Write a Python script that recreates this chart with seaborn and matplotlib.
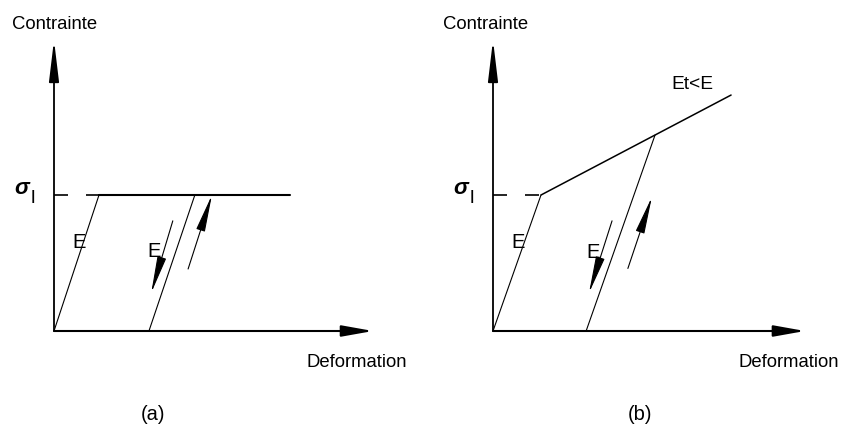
import matplotlib
matplotlib.use("Agg")
import matplotlib.pyplot as plt
import seaborn as sns

# ---- (a) elastic / perfectly plastic law (stress normalised by sigma_l) ----
a_load_strain = [0.0, 1.0, 5.25]
a_load_stress = [0.0, 1.0, 1.0]
a_unload_strain = [3.13, 2.11]
a_unload_stress = [1.0, 0.0]
a_guide_strain = [0.0, 1.0]
a_guide_stress = [1.0, 1.0]
a_down_strain = [2.64, 2.16]
a_down_stress = [0.81, 0.28]
a_up_strain = [2.98, 3.51]
a_up_stress = [0.456, 1.0]
a_axis_end = [7.09, 2.14]          # end of strain axis, end of stress axis

# ---- (b) elastic / linear hardening law (Et < E) ----
b_load_strain = [0.0, 1.0, 4.96]
b_load_stress = [0.0, 1.0, 1.735]
b_unload_strain = [3.375, 1.94]
b_unload_stress = [1.44, 0.0]
b_guide_strain = [0.0, 1.0]
b_guide_stress = [1.0, 1.0]
b_down_strain = [2.48, 2.0]
b_down_stress = [0.81, 0.28]
b_up_strain = [2.81, 3.31]
b_up_stress = [0.46, 0.985]
b_axis_end = [6.5, 2.14]

sns.set_theme(style="white")
plt.rcParams["font.family"] = ["Liberation Sans", "DejaVu Sans"]

W, H = 842, 430
fig = plt.figure(figsize=(W / 100, H / 100), dpi=100)
fig.patch.set_facecolor("white")


def make_axes(rect, origin_px, px_per_strain, px_per_stress):
    """Axes whose data units are strain/stress, placed so the origin sits at origin_px."""
    ax = fig.add_axes(rect)
    left_px = rect[0] * W
    right_px = (rect[0] + rect[2]) * W
    ox, oy = origin_px
    ax.set_xlim((left_px - ox) / px_per_strain, (right_px - ox) / px_per_strain)
    ax.set_ylim((oy - H) / px_per_stress, oy / px_per_stress)
    ax.set_axis_off()
    return ax


def draw_axes_arrows(ax, end):
    ax.annotate("", xy=(0, end[1]), xytext=(0, 0),
                arrowprops=dict(arrowstyle="-|>,head_length=2.5,head_width=0.3",
                                mutation_scale=10, color="black", lw=1.3,
                                shrinkA=0, shrinkB=0))
    ax.annotate("", xy=(end[0], 0), xytext=(0, 0),
                arrowprops=dict(arrowstyle="-|>,head_length=1.9,head_width=0.34",
                                mutation_scale=10, color="black", lw=1.5,
                                shrinkA=0, shrinkB=0))


def draw_small_arrow(ax, xs, ys):
    ax.annotate("", xy=(xs[1], ys[1]), xytext=(xs[0], ys[0]),
                arrowprops=dict(arrowstyle="-|>,head_length=2.3,head_width=0.28",
                                mutation_scale=10, color="black", lw=0.8,
                                shrinkA=0, shrinkB=0))


def draw_panel(ax, load, unload, guide, down, up, axis_end, load_lw):
    draw_axes_arrows(ax, axis_end)
    sns.lineplot(x=guide[0], y=guide[1], ax=ax, color="black", lw=1.2,
                 linestyle=(0, (8.4, 10.8)), estimator=None, sort=False)
    # elastic branch
    sns.lineplot(x=load[0][:2], y=load[1][:2], ax=ax, color="black", lw=0.8,
                 estimator=None, sort=False)
    # plastic branch
    sns.lineplot(x=load[0][1:], y=load[1][1:], ax=ax, color="black", lw=load_lw,
                 estimator=None, sort=False)
    # elastic unloading
    sns.lineplot(x=unload[0], y=unload[1], ax=ax, color="black", lw=0.8,
                 estimator=None, sort=False)
    draw_small_arrow(ax, *down)
    draw_small_arrow(ax, *up)


ax_a = make_axes([0.0, 0.0, 0.5, 1.0], (54, 331), 45, 136)
draw_panel(ax_a, (a_load_strain, a_load_stress), (a_unload_strain, a_unload_stress),
           (a_guide_strain, a_guide_stress), (a_down_strain, a_down_stress),
           (a_up_strain, a_up_stress), a_axis_end, 1.5)

ax_b = make_axes([0.5, 0.0, 0.5, 1.0], (493, 331), 48, 136)
draw_panel(ax_b, (b_load_strain, b_load_stress), (b_unload_strain, b_unload_stress),
           (b_guide_strain, b_guide_stress), (b_down_strain, b_down_stress),
           (b_up_strain, b_up_stress), b_axis_end, 1.1)


def label(px, py, s, size=13.3, ha="left", va="baseline", **kw):
    fig.text(px / W, 1 - py / H, s, fontsize=size, ha=ha, va=va, color="black", **kw)


# panel (a) texts
label(12, 29, "Contrainte")
label(307, 367, "Deformation")
label(153, 415, "(a)", size=14.5, ha="center", va="center")
label(14, 194, "σ", size=16, style="italic", weight="bold")
label(31, 203, "l", size=14)
label(72, 248, "E", size=14.5)
label(147, 257, "E", size=14.5)

# panel (b) texts
label(443, 29, "Contrainte")
label(738, 367, "Deformation")
label(640, 415, "(b)", size=14.5, ha="center", va="center")
label(453, 194, "σ", size=16, style="italic", weight="bold")
label(470, 203, "l", size=14)
label(511, 248, "E", size=14.5)
label(586, 258, "E", size=14.5)
label(671, 89, "Et<E", size=13.8)

fig.savefig("out.png", dpi=100, facecolor="white")
